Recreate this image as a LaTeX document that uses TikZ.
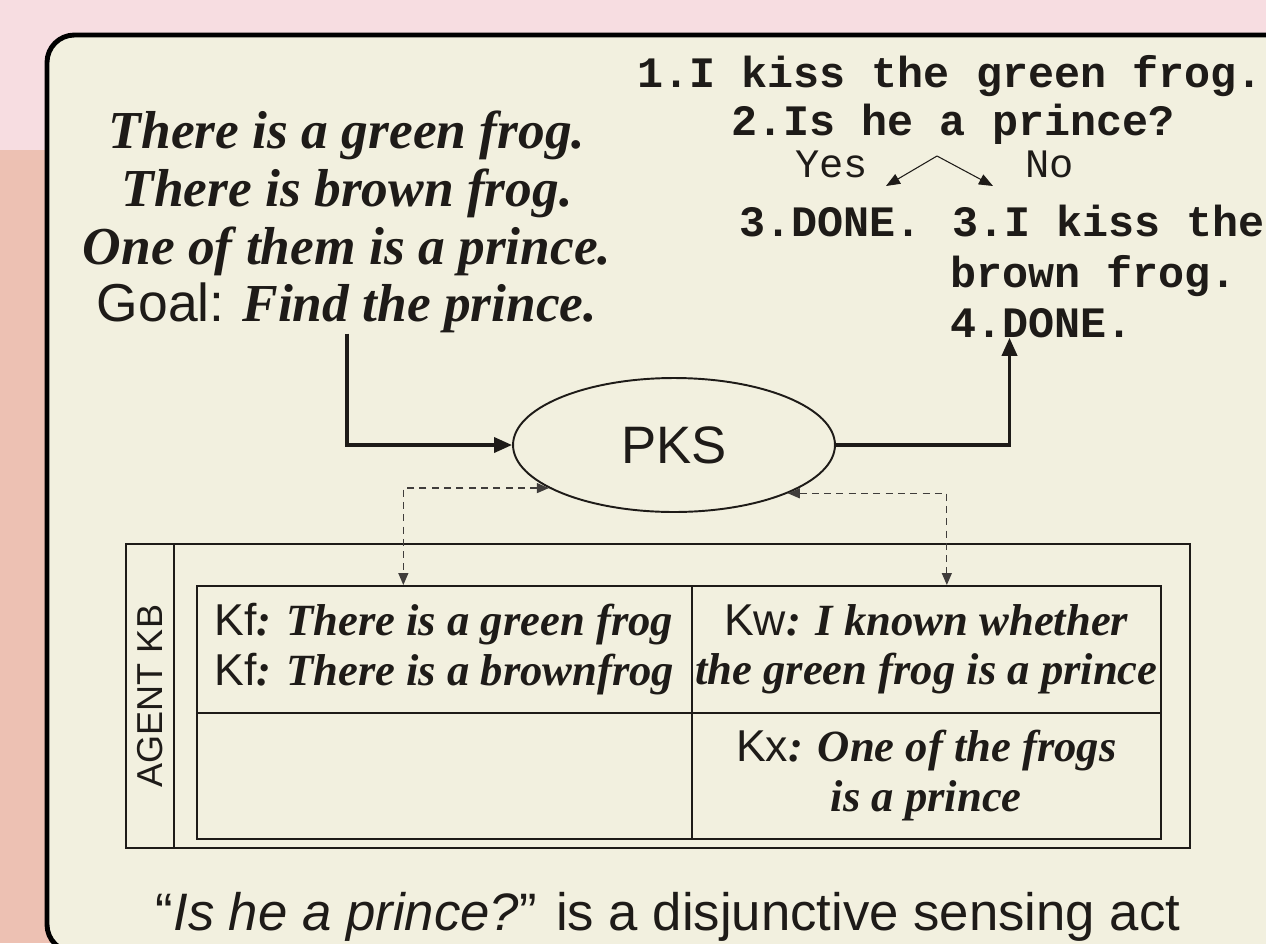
\documentclass[tikz,border=0pt]{standalone}
\usepackage{fontspec}
\setmainfont{Liberation Serif}
\newfontfamily\arialfont{Liberation Sans}
\newfontfamily\courierfont{Liberation Mono}
\usetikzlibrary{arrows.meta,positioning,shapes.geometric,calc}
\definecolor{blush}{HTML}{F7DDE1}
\definecolor{salmon}{HTML}{EDC1B3}
\definecolor{paper}{HTML}{F2F0DF}
\definecolor{ink}{HTML}{1E1B18}
\newcommand{\kbfact}[2]{{\arialfont\mdseries\upshape #1}\textbf{\textit{: #2}}}

\begin{document}
\begin{tikzpicture}[x=0.02cm,y=-0.02cm,
  flow/.style={ink,line width=2pt,-{Triangle[length=0.36cm,width=0.3cm]}},
  kblink/.style={ink!85,line width=0.7pt,dash pattern=on 4pt off 3pt,
    {Triangle[length=0.24cm,width=0.2cm]}-{Triangle[length=0.24cm,width=0.2cm]}},
  forkarrow/.style={ink,line width=0.6pt,-{Triangle[length=0.28cm,width=0.22cm]}},
  plan/.style={ink,inner sep=0pt,font=\courierfont\bfseries\fontsize{24.7}{28.3}\selectfont},
  answer/.style={ink,inner sep=0pt,font=\courierfont\fontsize{23}{26}\selectfont},
  cell/.style={draw=ink,line width=1pt,anchor=north west,inner sep=0pt,
    font=\fontsize{25.4}{28.3}\selectfont,text=ink},
  kbline/.style={draw=ink,line width=0.9pt}]
  \useasboundingbox (0,0) rectangle (1266,943);
  \clip (0,0) rectangle (1266,943);

  % backdrop
  \fill[blush] (0,0) rectangle (1266,150);
  \fill[salmon] (0,150) rectangle (60,943);
  \draw[line width=2.8pt,fill=paper,rounded corners=0.55cm] (47,35) rectangle (1320,952);

  % the story and the goal
  \node[ink,align=center,inner sep=0pt,font=\bfseries\itshape\fontsize{30.4}{32.9}\selectfont]
    (facts) at (347,222) {There is a green frog.\\There is brown frog.\\One of them is a prince.\\
    {\arialfont\mdseries\upshape Goal:} Find the prince.};

  % planner
  \node[ellipse,draw=ink,line width=1.1pt,minimum width=6.44cm,minimum height=2.68cm,inner sep=0pt,
    text=ink,font=\arialfont\fontsize{30}{34}\selectfont] (pks) at (674,445) {PKS};

  % the plan
  \node[plan,anchor=base] (plan1) at (950,87) {1.I kiss the green frog.};
  \node[plan,anchor=base] (plan2) at (953,135) {2.Is he a prince?};
  \node[answer,anchor=base west] (yes) at (795,177) {Yes};
  \node[answer,anchor=base west] (no) at (1025,177) {No};
  \coordinate (fork) at (937,156);
  \coordinate (yesend) at (886,186);
  \coordinate (noend) at (993,186);
  \draw[forkarrow] (fork) -- (yesend);
  \draw[forkarrow] (fork) -- (noend);
  \node[plan,anchor=base west] (done1) at (739,236) {3.DONE.};
  \node[plan,anchor=base west] (kiss2) at (952,236) {3.I kiss the};
  \node[plan,anchor=base west] (brown) at (950,287) {brown frog.};
  \node[plan,anchor=base west] (done2) at (950,337) {4.DONE.};

  \draw[flow] (facts.south) |- (pks.west);
  \draw[flow] (pks.east) -| ([xshift=-0.64cm]done2.south);

  % agent knowledge base
  \draw[kbline] (126,544) rectangle (1190,848);
  \draw[kbline] (174,544) -- (174,848);
  \node[ink,rotate=90,font=\arialfont\fontsize{20.5}{24}\selectfont] (kbname) at (150,696) {AGENT KB};
  \node[cell,minimum width=9.9cm,minimum height=2.54cm,align=left] (kf) at (196,585)
    {\kbfact{Kf}{There is a green frog}\\\kbfact{Kf}{There is a brownfrog}};
  \node[cell,minimum width=9.38cm,minimum height=2.54cm,align=center] (kw) at (691,585)
    {\kbfact{Kw}{I known whether}\\\textbf{\textit{the green frog is a prince}}};
  \node[cell,minimum width=9.9cm,minimum height=2.52cm] (blank) at (196,712) {};
  \node[cell,minimum width=9.38cm,minimum height=2.52cm,align=center] (kx) at (691,712)
    {\kbfact{Kx}{One of the frogs}\\\textbf{\textit{is a prince}}};

  \draw[kblink] (pks.199) -| ([xshift=-0.82cm]kf.north);
  \draw[kblink] (pks.337) -| ([xshift=0.41cm]kw.north);

  % caption
  \node[ink,anchor=base,font=\arialfont\fontsize{30}{34}\selectfont] (caption) at (668,930)
    {“\textit{Is he a prince?}” is a disjunctive sensing act};
\end{tikzpicture}
\end{document}
